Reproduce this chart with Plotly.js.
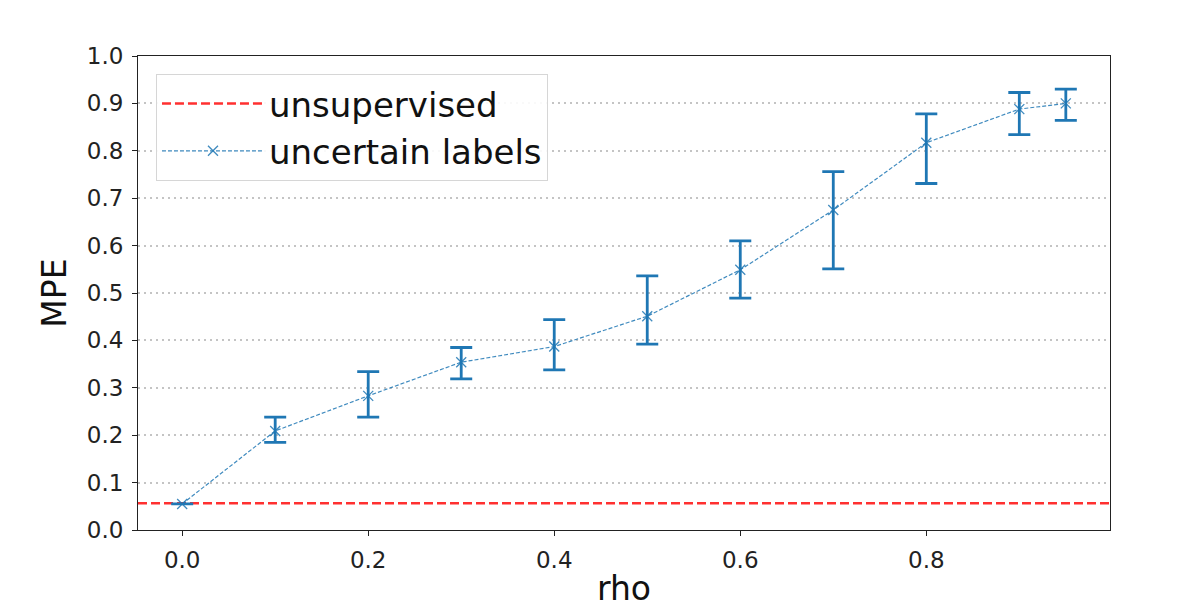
<!DOCTYPE html>
<html>
<head>
<meta charset="utf-8">
<script src="https://cdn.plot.ly/plotly-3.0.1.min.js"></script>
<style>
  html, body { margin: 0; padding: 0; background: #fff; }
  #chart { width: 1196px; height: 608px; }
</style>
</head>
<body>
<div id="chart"></div>
<script>

// ---- data ----
let rho = [0, 0.1, 0.2, 0.3, 0.4, 0.5, 0.6, 0.7, 0.8, 0.9, 0.95];

let mpe = [0.055, 0.209, 0.283, 0.354, 0.387, 0.451, 0.549, 0.675, 0.817, 0.888, 0.900];

let mpeUpper = [0.055, 0.238, 0.334, 0.385, 0.444, 0.536, 0.610, 0.756, 0.878, 0.923, 0.930];

let mpeLower = [0.055, 0.185, 0.238, 0.319, 0.338, 0.392, 0.489, 0.551, 0.731, 0.834, 0.864];

let unsupervisedMPE = 0.0563;

let xRange = [-0.0475, 0.9975];

let yTicks = [0, 0.1, 0.2, 0.3, 0.4, 0.5, 0.6, 0.7, 0.8, 0.9, 1.0];


// error sizes from the bar ends
let errPlus = mpeUpper.map((u, i) => u - mpe[i]);
let errMinus = mpeLower.map((l, i) => mpe[i] - l);


let fontFamily = "DejaVu Sans, Liberation Sans, sans-serif";


// unsupervised baseline (spans the whole axis)
let baseline = {
    x: xRange,
    y: xRange.map(() => unsupervisedMPE),
    type: "scatter",
    mode: "lines",
    name: "unsupervised",
    line: { color: "#ff3030", width: 2.5, dash: "9px,4px" },
    hoverinfo: "skip"
};


// uncertain labels with error bars
let uncertain = {
    x: rho,
    y: mpe,
    type: "scatter",
    mode: "lines+markers",
    name: "uncertain labels",
    line: { color: "rgba(31,119,180,0.85)", width: 1.2, dash: "4px,2px" },
    marker: {
        symbol: "x-thin",
        size: 10,
        color: "rgba(31,119,180,0.85)",
        line: { color: "rgba(31,119,180,0.85)", width: 1.3 }
    },
    error_y: {
        type: "data",
        symmetric: false,
        array: errPlus,
        arrayminus: errMinus,
        color: "#1f77b4",
        thickness: 2.8,
        width: 11
    }
};


let layout = {
    width: 1196,
    height: 608,
    paper_bgcolor: "#ffffff",
    plot_bgcolor: "#ffffff",
    margin: { l: 138, r: 86, t: 56, b: 78 },
    font: { family: fontFamily, color: "#222" },
    showlegend: true,
    legend: {
        x: 0.0185,
        y: 0.962,
        xanchor: "left",
        yanchor: "top",
        bgcolor: "rgba(255,255,255,0.9)",
        bordercolor: "#d6d6d6",
        borderwidth: 1,
        itemwidth: 102,
        font: { size: 34, family: fontFamily, color: "#111" }
    },
    xaxis: {
        range: xRange,
        tickvals: [0, 0.2, 0.4, 0.6, 0.8],
        tickformat: ".1f",
        ticks: "outside",
        ticklen: 5,
        tickcolor: "#222",
        ticklabelstandoff: 4,
        showline: true,
        mirror: true,
        linecolor: "#222",
        linewidth: 1,
        showgrid: false,
        zeroline: false,
        tickfont: { size: 23, family: fontFamily, color: "#222" },
        title: {
            text: "rho",
            standoff: 8,
            font: { size: 33, family: fontFamily, color: "#111" }
        }
    },
    yaxis: {
        range: [0, 1.0],
        tickvals: yTicks,
        tickformat: ".1f",
        ticks: "outside",
        ticklen: 5,
        tickcolor: "#222",
        ticklabelstandoff: 4,
        showline: true,
        mirror: true,
        linecolor: "#222",
        linewidth: 1,
        showgrid: true,
        gridcolor: "#c4c4c4",
        gridwidth: 2,
        griddash: "2px,4px",
        zeroline: false,
        tickfont: { size: 23, family: fontFamily, color: "#222" },
        title: {
            text: "MPE",
            standoff: 10,
            font: { size: 33, family: fontFamily, color: "#111" }
        }
    }
};


Plotly.newPlot("chart", [baseline, uncertain], layout, { staticPlot: true });

</script>
</body>
</html>
